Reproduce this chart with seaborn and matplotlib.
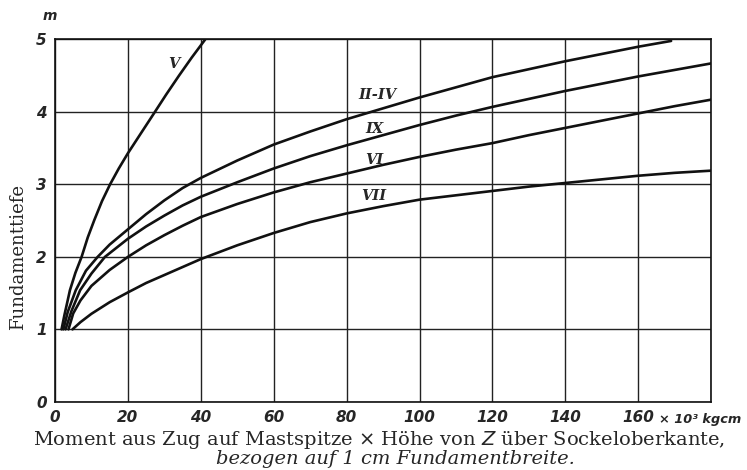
import pandas as pd
import seaborn as sns
import matplotlib.pyplot as plt

v_x = [1.8, 2.6, 3.4, 4.1, 5.6, 7.3, 9.0, 10.8, 12.9, 15.1, 17.5, 20, 23.5, 27.4, 30.5, 34, 37.5, 41.2]
v_y = [1.0, 1.2, 1.38, 1.54, 1.78, 2.0, 2.27, 2.51, 2.77, 3.0, 3.22, 3.43, 3.70, 4.0, 4.24, 4.5, 4.75, 5.0]

ii_iv_x = [2.3, 3.5, 5.7, 8.5, 11.7, 15, 20, 25, 30, 35, 40, 50, 60, 70, 80, 90,
           100, 110, 120, 130, 140, 150, 160, 169]
ii_iv_y = [1.0, 1.24, 1.54, 1.81, 2.0, 2.17, 2.38, 2.59, 2.78, 2.95, 3.09, 3.33, 3.55, 3.73, 3.90, 4.05,
           4.20, 4.34, 4.48, 4.59, 4.70, 4.80, 4.90, 4.98]

ix_x = [2.9, 4.5, 6.9, 10, 13.7, 20, 25, 30, 35, 40, 50, 60, 70, 80, 90,
        100, 110, 120, 130, 140, 150, 160, 170, 180]
ix_y = [1.0, 1.25, 1.54, 1.77, 2.0, 2.25, 2.42, 2.57, 2.71, 2.83, 3.03, 3.22, 3.39, 3.54, 3.68,
        3.82, 3.95, 4.07, 4.18, 4.29, 4.39, 4.49, 4.58, 4.67]

vi_x = [3.7, 5, 7, 10, 15, 20, 25, 30, 35, 40, 50, 60, 70, 80, 90,
        100, 110, 120, 130, 140, 150, 160, 170, 180]
vi_y = [1.0, 1.22, 1.40, 1.60, 1.82, 2.0, 2.16, 2.30, 2.43, 2.55, 2.73, 2.89, 3.03, 3.15, 3.27,
        3.38, 3.48, 3.57, 3.68, 3.78, 3.88, 3.98, 4.08, 4.17]

vii_x = [4.8, 7, 10, 15, 20, 25, 30, 35, 40, 50, 60, 70, 80, 90,
         100, 110, 120, 130, 140, 150, 160, 170, 180]
vii_y = [1.0, 1.10, 1.215, 1.375, 1.51, 1.64, 1.75, 1.86, 1.97, 2.16, 2.33, 2.48, 2.60, 2.70,
         2.79, 2.85, 2.91, 2.97, 3.02, 3.07, 3.12, 3.16, 3.19]

curves = {
    "V": (v_x, v_y),
    "II-IV": (ii_iv_x, ii_iv_y),
    "IX": (ix_x, ix_y),
    "VI": (vi_x, vi_y),
    "VII": (vii_x, vii_y),
}

# Beschriftung der Kurven
label_names = ["V", "II-IV", "IX", "VI", "VII"]
label_x = [32.5, 88.5, 87.5, 87.5, 87.5]
label_y = [4.66, 4.24, 3.76, 3.34, 2.84]

x_ticks = [0, 20, 40, 60, 80, 100, 120, 140, 160]
y_ticks = [0, 1, 2, 3, 4, 5]

rows = []
for name, (xs, ys) in curves.items():
    for x, y in zip(xs, ys):
        rows.append({"moment": x, "tiefe": y, "kurve": name})
df = pd.DataFrame(rows)

sns.set_style("white")
plt.rcParams['font.family'] = ['DejaVu Serif']

fig = plt.figure(figsize=(7.47, 4.70), dpi=100)
ax = fig.add_axes([0.0736, 0.145, 0.8785, 0.771])

sns.lineplot(data=df, x="moment", y="tiefe", units="kurve", estimator=None,
             sort=False, color="#111111", linewidth=1.9, ax=ax)

ax.set_xlim(0, 180)
ax.set_ylim(0, 5)
ax.set_xticks(x_ticks + [180])
ax.set_xticklabels([str(t) for t in x_ticks] + [""])
ax.set_yticks(y_ticks)
ax.set_yticklabels([str(t) for t in y_ticks])
ax.grid(True, color="#222222", linewidth=1.0)
ax.tick_params(length=0, pad=6)
for lab in ax.get_xticklabels() + ax.get_yticklabels():
    lab.set_family("DejaVu Sans")
    lab.set_fontweight("bold")
    lab.set_fontstyle("italic")
    lab.set_fontsize(11)
for sp in ax.spines.values():
    sp.set_color("#111111")
    sp.set_linewidth(1.2)

ax.set_xlabel("")
ax.set_ylabel("Fundamenttiefe", fontsize=13)
ax.yaxis.set_label_coords(-0.042, 0.40)

# Einheit an den Achsen
ax.annotate("m", xy=(0, 5), xycoords="data", xytext=(-4, 17),
            textcoords="offset points", ha="center", va="center",
            fontsize=10, fontweight="bold", fontstyle="italic", family="DejaVu Sans")
ax.annotate("× 10³ kgcm", xy=(160, 0), xycoords="data",
            xytext=(15, -13), textcoords="offset points", ha="left", va="center",
            fontsize=9.3, fontweight="bold", fontstyle="italic", family="DejaVu Sans")

for name, lx, ly in zip(label_names, label_x, label_y):
    ax.text(lx, ly, name, ha="center", va="center", fontsize=10.5,
            fontweight="bold", fontstyle="italic")

fig.text(0.508, 0.064, "Moment aus Zug auf Mastspitze $\\times$ Höhe von $Z$ über Sockeloberkante,",
         ha="center", va="center", fontsize=14)
fig.text(0.53, 0.024, "bezogen auf 1 cm Fundamentbreite.", ha="center", va="center",
         fontsize=14, fontstyle="italic")

fig.savefig("out.png", dpi=100)
